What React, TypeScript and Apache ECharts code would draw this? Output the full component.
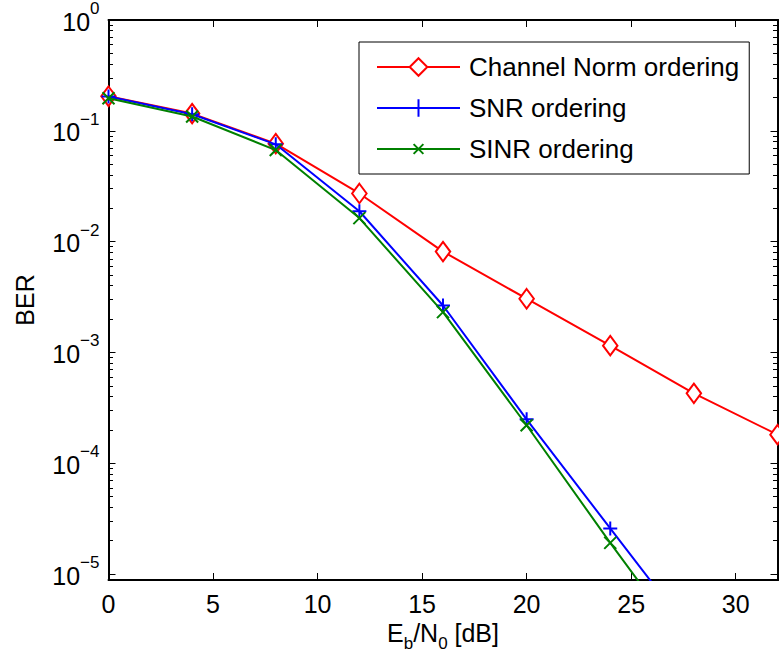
import React, { useEffect, useRef } from "react";
import * as echarts from "echarts";

const ebno = [0, 4, 8, 12, 16, 20, 24, 28, 32];
const channelNormBer = [0.205, 0.143, 0.0765, 0.0272, 0.00813, 0.00305, 0.00115, 0.000427, 0.000181];
const snrBer = [0.204, 0.141, 0.0755, 0.0188, 0.00265, 0.000249, 0.0000258, 0.0000027];
const sinrBer = [0.197, 0.1345, 0.067, 0.0163, 0.00231, 0.00022, 0.0000191, 0.0000018];
const xTicks = [0, 5, 10, 15, 20, 25, 30];
const yDecades = [-5, -4, -3, -2, -1, 0];
const seriesNames = ["Channel Norm ordering", "SNR ordering", "SINR ordering"];

const FONT = "'Liberation Sans', Arial, Helvetica, sans-serif";
const YMIN = Math.log10(8.83e-6);
const YMAX = 0;

const minorTicks: number[] = [];
for (let n = -6; n <= -1; n++) {
  for (let k = 2; k <= 9; k++) {
    const v = Math.log10(k) + n;
    if (v >= YMIN && v <= YMAX) minorTicks.push(v);
  }
}

const toLog = (vals: number[]) => vals.map((v, i) => [ebno[i], Math.log10(v)]);

export default function App() {
  const ref = useRef<HTMLDivElement>(null);
  useEffect(() => {
    if (!ref.current) return;
    const chart = echarts.init(ref.current, null, { renderer: "svg" });
    const axisLine = { show: true, onZero: false, lineStyle: { color: "#000", width: 2 } };
    const yLabelFormatter = (v: number) => {
      const e = Math.round(v);
      return `{b|10}{s|${e === 0 ? "0" : "\u2212" + Math.abs(e)}}`;
    };
    const yAxisBase = (position: string) => ({
      type: "value",
      position,
      min: YMIN,
      max: YMAX,
      splitLine: { show: false },
      axisLine,
    });
    const xAxisBase = (position: string) => ({
      type: "value",
      position,
      min: 0,
      max: 32,
      splitLine: { show: false },
      axisLine,
      axisTick: {
        show: true,
        inside: true,
        length: 7,
        customValues: xTicks,
        lineStyle: { color: "#000", width: 1 },
      },
    });
    const option: any = {
      animation: false,
      backgroundColor: "#fff",
      grid: { left: 108.5, right: 1.5, top: 19, bottom: 79, containLabel: false },
      xAxis: [
        {
          ...xAxisBase("bottom"),
          axisLabel: {
            customValues: xTicks,
            margin: 11,
            fontSize: 25,
            fontFamily: FONT,
            color: "#000",
          },
          name: "{n|E}{sub|b}{n|/N}{sub|0}{n| [dB]}",
          nameLocation: "middle",
          nameGap: 31,
          nameTextStyle: {
            fontFamily: FONT,
            color: "#000",
            rich: {
              n: { fontSize: 25, lineHeight: 25, fontFamily: FONT, color: "#000" },
              sub: { fontSize: 17, padding: [20, 0, 0, 0], fontFamily: FONT, color: "#000" },
            },
          },
        },
        {
          ...xAxisBase("top"),
          axisLabel: { show: false },
        },
      ],
      yAxis: [
        {
          ...yAxisBase("left"),
          axisTick: {
            show: true,
            inside: true,
            length: 7,
            customValues: yDecades,
            lineStyle: { color: "#000", width: 1 },
          },
          axisLabel: {
            customValues: yDecades,
            margin: 9,
            formatter: yLabelFormatter,
            rich: {
              b: { fontSize: 25, lineHeight: 25, padding: [3, 0, 0, 0], fontFamily: FONT, color: "#000" },
              s: { fontSize: 17, padding: [0, 0, 23, 0], fontFamily: FONT, color: "#000" },
            },
          },
          name: "BER",
          nameLocation: "middle",
          nameGap: 71,
          nameTextStyle: { fontSize: 25, fontFamily: FONT, color: "#000" },
        },
        {
          ...yAxisBase("left"),
          axisTick: {
            show: true,
            inside: true,
            length: 4.5,
            customValues: minorTicks,
            lineStyle: { color: "#000", width: 1 },
          },
          axisLabel: { show: false },
        },
        {
          ...yAxisBase("right"),
          axisTick: {
            show: true,
            inside: true,
            length: 7,
            customValues: yDecades,
            lineStyle: { color: "#000", width: 1 },
          },
          axisLabel: { show: false },
        },
        {
          ...yAxisBase("right"),
          axisTick: {
            show: true,
            inside: true,
            length: 4.5,
            customValues: minorTicks,
            lineStyle: { color: "#000", width: 1 },
          },
          axisLabel: { show: false },
        },
      ],
      legend: {
        orient: "vertical",
        left: 359,
        top: 42,
        padding: [12, 10, 12, 17],
        itemWidth: 83,
        itemHeight: 22,
        itemGap: 15,
        backgroundColor: "#fff",
        borderColor: "#000",
        borderWidth: 1,
        borderRadius: 0,
        selectedMode: false,
        textStyle: { fontSize: 26, fontFamily: FONT, color: "#000", lineHeight: 22, padding: [0, 0, 0, 4] },
        data: seriesNames,
      },
      series: [
        {
          name: seriesNames[0],
          type: "line",
          data: toLog(channelNormBer),
          symbol: "emptyDiamond",
          symbolSize: [14.5, 19.5],
          showAllSymbol: true,
          lineStyle: { color: "#ff0000", width: 2 },
          itemStyle: { color: "#ff0000", borderColor: "#ff0000", borderWidth: 2 },
          emphasis: { disabled: true },
          clip: true,
          z: 2,
        },
        {
          name: seriesNames[1],
          type: "line",
          data: toLog(snrBer),
          symbol: "path://M5,0L5,10M0,5L10,5",
          symbolSize: 14,
          showAllSymbol: true,
          lineStyle: { color: "#0000ff", width: 2 },
          itemStyle: { color: "#0000ff", borderColor: "#0000ff", borderWidth: 2 },
          emphasis: { disabled: true },
          clip: true,
          z: 3,
        },
        {
          name: seriesNames[2],
          type: "line",
          data: toLog(sinrBer),
          symbol: "path://M-4,-4M14,14M0,0L10,10M10,0L0,10",
          symbolSize: 21.6,
          showAllSymbol: true,
          lineStyle: { color: "#008000", width: 2 },
          itemStyle: { color: "#008000", borderColor: "#008000", borderWidth: 2 },
          emphasis: { disabled: true },
          clip: true,
          z: 4,
        },
      ],
    };
    chart.setOption(option);
    return () => chart.dispose();
  }, []);
  return (
    <div
      ref={ref}
      style={{ position: "fixed", left: 0, top: 0, width: 779, height: 659, background: "#fff" }}
    />
  );
}
